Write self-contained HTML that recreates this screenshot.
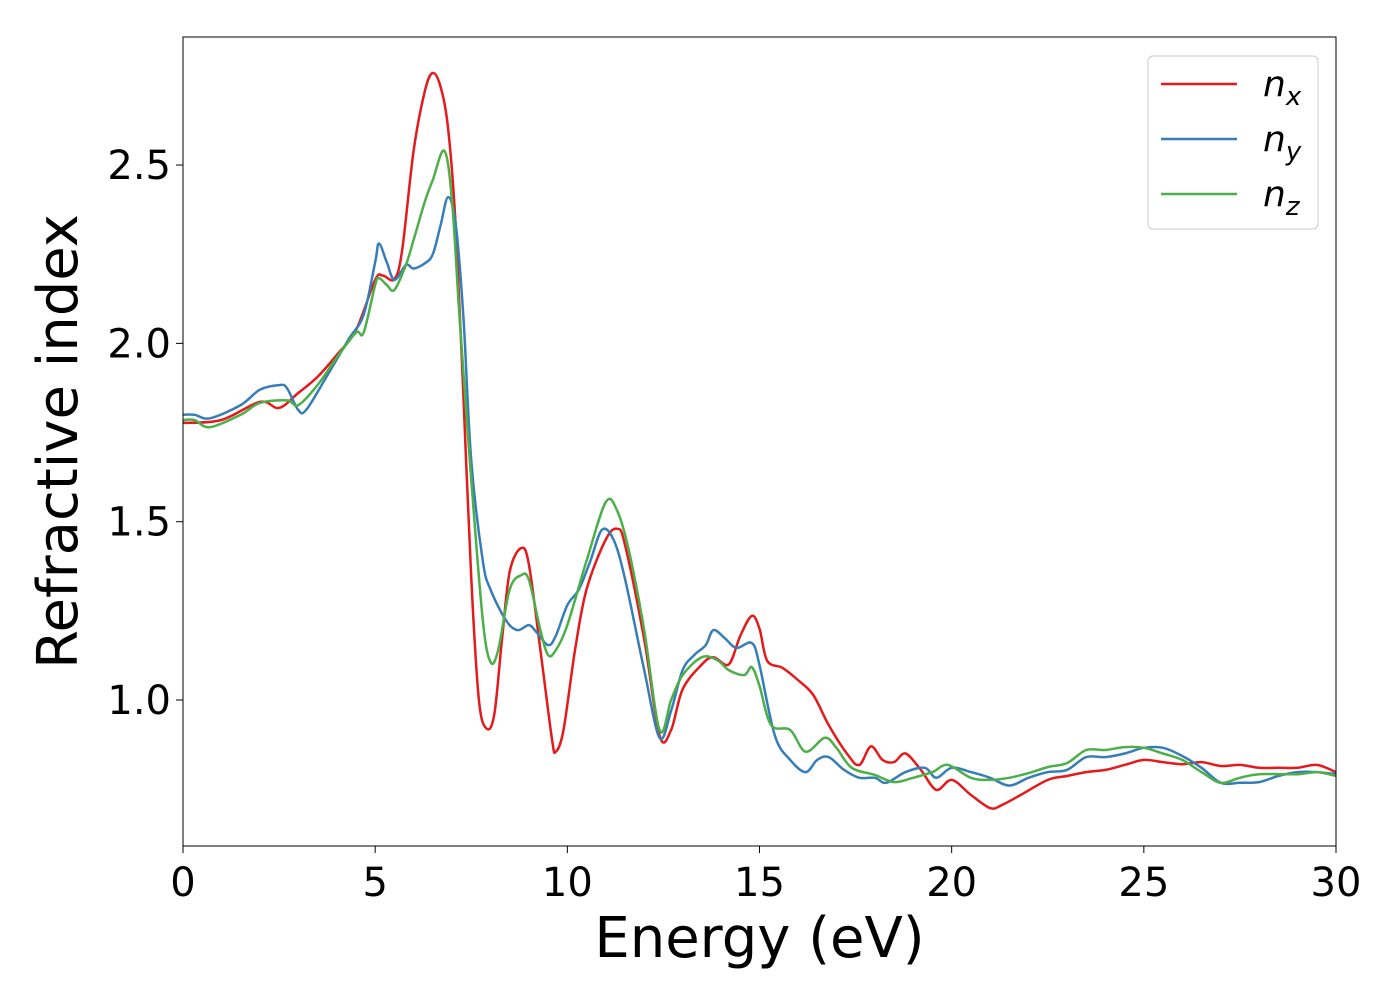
<!DOCTYPE html>
<html><head><meta charset="utf-8"><style>
html,body{margin:0;padding:0;background:#fff;width:1400px;height:1000px;overflow:hidden}
text{font-family:"DejaVu Sans","Liberation Sans",sans-serif;fill:#000}
</style></head><body>
<svg id="chart" width="1400" height="1000" xmlns="http://www.w3.org/2000/svg">
<g id="series"></g>
<g id="axes"></g>
</svg>
<script>
const nxE=[0,1,2,2.5,3,3.5,4,4.5,5,5.2,5.5,5.7,6,6.3,6.5,6.7,6.9,7.1,7.3,7.5,7.7,7.9,8.1,8.3,8.5,8.8,9.0,9.3,9.6,9.7,9.9,10.2,10.5,11.0,11.3,11.5,12.0,12.4,12.7,13,13.5,13.8,14.2,14.5,14.8,15.0,15.2,15.6,16,16.4,16.8,17.3,17.6,17.9,18.2,18.5,18.8,19.2,19.6,20.0,20.5,21.0,21.3,21.8,22.5,23.0,23.5,24,24.5,25,25.5,26,26.5,27,27.5,28,28.5,29,29.5,30];
const nxV=[1.777,1.785,1.836,1.819,1.861,1.906,1.967,2.037,2.178,2.19,2.18,2.26,2.54,2.71,2.758,2.72,2.60,2.32,1.84,1.34,1.0,0.92,0.96,1.17,1.36,1.426,1.38,1.14,0.89,0.855,0.916,1.14,1.31,1.45,1.48,1.435,1.17,0.90,0.916,1.03,1.10,1.12,1.10,1.18,1.236,1.20,1.11,1.09,1.056,1.014,0.93,0.846,0.818,0.87,0.832,0.826,0.85,0.804,0.748,0.776,0.734,0.697,0.705,0.734,0.776,0.787,0.798,0.804,0.818,0.832,0.826,0.82,0.826,0.815,0.818,0.81,0.81,0.81,0.818,0.798];
const nyE=[0,0.3,0.7,1.5,2,2.5,2.7,3.0,3.2,3.7,4.3,4.7,5.0,5.1,5.3,5.5,5.8,6.0,6.3,6.5,6.7,6.9,7.1,7.3,7.5,7.8,8.0,8.4,8.7,9.0,9.2,9.5,9.7,10.0,10.3,10.6,10.9,11.2,11.5,12.0,12.4,12.7,13.0,13.3,13.6,13.8,14.1,14.4,14.8,15.0,15.4,15.8,16.2,16.5,16.8,17.2,17.6,18.0,18.3,18.8,19.3,19.6,20.0,20.5,21.0,21.5,22,22.5,23,23.5,24,24.5,25,25.5,26,26.5,27,27.5,28,28.5,29,29.5,30];
const nyV=[1.80,1.80,1.79,1.827,1.87,1.883,1.875,1.813,1.813,1.90,2.01,2.08,2.228,2.28,2.228,2.178,2.22,2.21,2.225,2.25,2.33,2.41,2.33,2.066,1.67,1.39,1.31,1.224,1.196,1.21,1.19,1.154,1.18,1.266,1.31,1.39,1.477,1.45,1.34,1.084,0.894,0.97,1.084,1.126,1.154,1.196,1.173,1.146,1.16,1.098,0.90,0.832,0.798,0.832,0.84,0.804,0.782,0.782,0.768,0.798,0.81,0.782,0.81,0.798,0.782,0.76,0.782,0.798,0.804,0.84,0.84,0.85,0.866,0.866,0.843,0.81,0.768,0.768,0.77,0.787,0.798,0.798,0.792];
const nzE=[0,0.3,0.7,1.5,2,2.7,3.0,3.5,4.0,4.5,4.7,5.0,5.1,5.3,5.5,5.8,6.0,6.3,6.5,6.8,7.0,7.2,7.5,7.8,8.0,8.2,8.5,8.8,9.0,9.3,9.5,9.7,10.0,10.5,11.0,11.3,11.6,12.0,12.4,12.7,13.0,13.5,13.9,14.2,14.6,14.8,15.0,15.3,15.8,16.2,16.7,17.0,17.4,18.0,18.5,19.0,19.5,19.9,20.5,21.0,21.5,22,22.5,23,23.5,24,24.5,25,25.5,26,26.5,27,27.5,28,29,29.5,30];
const nzV=[1.785,1.785,1.765,1.80,1.833,1.84,1.827,1.883,1.96,2.03,2.03,2.164,2.183,2.164,2.15,2.22,2.29,2.40,2.458,2.54,2.40,2.066,1.617,1.224,1.107,1.14,1.31,1.35,1.337,1.196,1.126,1.14,1.21,1.39,1.555,1.53,1.42,1.196,0.916,1.0,1.07,1.12,1.112,1.084,1.07,1.092,1.04,0.93,0.916,0.855,0.894,0.866,0.81,0.79,0.77,0.782,0.798,0.818,0.782,0.776,0.782,0.795,0.812,0.823,0.86,0.86,0.868,0.866,0.85,0.832,0.798,0.768,0.782,0.792,0.792,0.798,0.787];
const xTicks=[0,5,10,15,20,25,30];
const yTicks=[1.0,1.5,2.0,2.5];
const yTickLabels=["1.0","1.5","2.0","2.5"];

const L=183,R=1336,T=37,B=846;
const xMin=0,xMax=30,yMin=0.5907,yMax=2.859;
const sx=v=>L+(v-xMin)/(xMax-xMin)*(R-L);
const sy=v=>B-(v-yMin)/(yMax-yMin)*(B-T);
const NS="http://www.w3.org/2000/svg";
function mk(tag,attrs,parent){const e=document.createElementNS(NS,tag);for(const k in attrs)e.setAttribute(k,attrs[k]);parent.appendChild(e);return e;}
function pathD(E,V){
  const p=E.map((e,i)=>[sx(e),sy(V[i])]);
  let d="M"+p[0][0].toFixed(1)+","+p[0][1].toFixed(1);
  for(let i=0;i<p.length-1;i++){
    const p0=p[Math.max(0,i-1)],p1=p[i],p2=p[i+1],p3=p[Math.min(p.length-1,i+2)];
    const c1=[p1[0]+(p2[0]-p0[0])/6,p1[1]+(p2[1]-p0[1])/6];
    const c2=[p2[0]-(p3[0]-p1[0])/6,p2[1]-(p3[1]-p1[1])/6];
    d+=` C${c1[0].toFixed(1)},${c1[1].toFixed(1)} ${c2[0].toFixed(1)},${c2[1].toFixed(1)} ${p2[0].toFixed(1)},${p2[1].toFixed(1)}`;
  }
  return d;
}
const sg=document.getElementById('series');
mk('clipPath',{id:'clip'},sg);
mk('rect',{x:L,y:T,width:R-L,height:B-T},document.getElementById('clip'));
const series=[[nxE,nxV,'#e41a1c','series-nx'],[nyE,nyV,'#377eb8','series-ny'],[nzE,nzV,'#4daf4a','series-nz']];
series.forEach(s=>{
  const p=mk('path',{d:pathD(s[0],s[1]),fill:'none',stroke:s[2],'stroke-width':2.5,'clip-path':'url(#clip)'},sg);
  
  
});
const ax=document.getElementById('axes');
const frame=mk('rect',{x:L,y:T,width:R-L,height:B-T,fill:'none',stroke:'#000','stroke-width':1},ax);


xTicks.forEach(t=>{
  const x=sx(t);
  mk('line',{x1:x,x2:x,y1:B,y2:B+7,stroke:'#000','stroke-width':1},ax);
  const tx=mk('text',{x:x,y:B+50,'text-anchor':'middle','font-size':40},ax);
  tx.textContent=String(t);
  
  
});
yTicks.forEach((t,i)=>{
  const y=sy(t);
  mk('line',{x1:L-7,x2:L,y1:y,y2:y,stroke:'#000','stroke-width':1},ax);
  const tx=mk('text',{x:L-12,y:y+14,'text-anchor':'end','font-size':40},ax);
  tx.textContent=yTickLabels[i];
  
  
});
const xt=mk('text',{x:(L+R)/2,y:957,'text-anchor':'middle','font-size':56},ax);
xt.textContent='Energy (eV)';


const yt=mk('text',{x:0,y:0,'text-anchor':'middle','font-size':56,transform:`translate(77,${(T+B)/2}) rotate(-90)`},ax);
yt.textContent='Refractive index';


// legend
const lg=mk('g',{},ax);


mk('rect',{x:1148,y:56,width:170,height:173,rx:5,fill:'#fff',stroke:'#ccc','stroke-width':1},lg);
const labs=[['x','#e41a1c'],['y','#377eb8'],['z','#4daf4a']];
labs.forEach((l,i)=>{
  const y=84+i*55;
  mk('line',{x1:1161,x2:1237,y1:y,y2:y,stroke:l[1],'stroke-width':2.5},lg);
  const t=mk('text',{x:1263,y:y+12,'font-size':36,'font-style':'italic'},lg);
  
  
  t.textContent='n';
  const s=mk('tspan',{'font-size':26,dy:9},t);
  s.textContent=l[0];
});
</script>
</body></html>
